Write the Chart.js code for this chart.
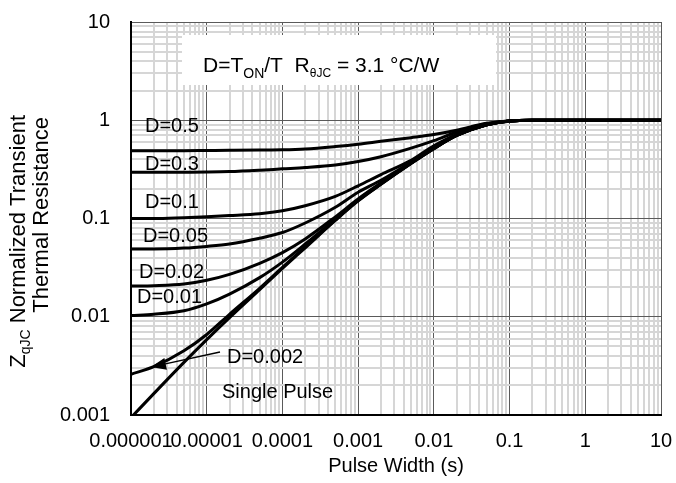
<!DOCTYPE html>
<html>
<head>
<meta charset="utf-8">
<script src="https://cdn.jsdelivr.net/npm/chart.js@4.4.1/dist/chart.umd.min.js"></script>
<style>
  html, body { margin: 0; padding: 0; background: #fff; }
</style>
</head>
<body>
<canvas id="myChart" width="676" height="483"></canvas>
<script>
const ctx = document.getElementById('myChart').getContext('2d');

// pulse width (s) and normalized Zthjc per duty cycle
const pulseWidth = [1e-6, 2e-6, 5e-6, 1e-5, 2e-5, 5e-5, 1e-4, 2e-4, 5e-4, 1e-3, 2e-3, 5e-3, 1e-2, 2e-2, 5e-2, 0.1, 0.2, 1, 10];
const d05    = [0.49, 0.49, 0.49, 0.492, 0.494, 0.497, 0.50, 0.51, 0.54, 0.57, 0.61, 0.665, 0.715, 0.79, 0.93, 0.985, 1.0, 1.0, 1.0];
const d03    = [0.295, 0.295, 0.296, 0.297, 0.30, 0.31, 0.32, 0.33, 0.35, 0.38, 0.425, 0.52, 0.62, 0.76, 0.92, 0.985, 1.0, 1.0, 1.0];
const d01    = [0.100, 0.100, 0.102, 0.104, 0.107, 0.112, 0.12, 0.135, 0.168, 0.215, 0.28, 0.39, 0.55, 0.72, 0.91, 0.985, 1.0, 1.0, 1.0];
const d005   = [0.049, 0.049, 0.050, 0.052, 0.055, 0.063, 0.072, 0.09, 0.13, 0.185, 0.245, 0.375, 0.525, 0.705, 0.90, 0.985, 1.0, 1.0, 1.0];
const d002   = [0.0205, 0.0207, 0.0215, 0.0235, 0.027, 0.035, 0.045, 0.062, 0.104, 0.158, 0.23, 0.368, 0.518, 0.70, 0.90, 0.985, 1.0, 1.0, 1.0];
const d001   = [0.0103, 0.0106, 0.0115, 0.0135, 0.017, 0.025, 0.036, 0.055, 0.099, 0.155, 0.226, 0.365, 0.515, 0.70, 0.90, 0.985, 1.0, 1.0, 1.0];
const d0002  = [0.0026, 0.0031, 0.0045, 0.0066, 0.0106, 0.0195, 0.0318, 0.0513, 0.097, 0.152, 0.224, 0.364, 0.514, 0.70, 0.90, 0.985, 1.0, 1.0, 1.0];
const single = [0.00094, 0.00165, 0.00343, 0.00585, 0.0098, 0.0189, 0.031, 0.0503, 0.0955, 0.151, 0.223, 0.363, 0.513, 0.70, 0.90, 0.985, 1.0, 1.0, 1.0];

const xTickLabels = ['0.000001', '0.00001', '0.0001', '0.001', '0.01', '0.1', '1', '10'];
const yTickLabels = ['0.001', '0.01', '0.1', '1', '10'];

const FONT = '"Liberation Sans", Arial, sans-serif';

// 1..9 per decade, labels only on the decades
function logGrid(labels) {
  const ticks = [];
  labels.forEach((lbl, i) => {
    const d = Number(lbl);
    if (i === labels.length - 1) { ticks.push({ value: d, major: true, lbl }); return; }
    for (let k = 1; k <= 9; k++) ticks.push({ value: d * k, major: k === 1, lbl: k === 1 ? lbl : '' });
  });
  return ticks;
}

const gridStyle = {
  color: c => (c.tick && c.tick.major) ? '#5a5a5a' : '#d6d6d6',
  lineWidth: c => (c.tick && c.tick.major) ? 1 : 2,
  drawTicks: false
};

// fixed box sizes, no extra label overhang padding
function fixBox(s, w, h) {
  if (w) s.width = w;
  if (h) s.height = h;
  s.paddingTop = s.paddingBottom = s.paddingLeft = s.paddingRight = 0;
}

function rich(ctx, parts, x, y, align) {
  let w = 0;
  parts.forEach(p => { ctx.font = p[1] + 'px ' + FONT; w += ctx.measureText(p[0]).width; });
  let cx = align === 'right' ? x - w : x;
  parts.forEach(p => {
    ctx.font = p[1] + 'px ' + FONT;
    ctx.fillText(p[0], cx, y + p[2]);
    cx += ctx.measureText(p[0]).width;
  });
}

const overlay = {
  id: 'overlay',
  beforeDatasetsDraw(chart) {
    const { ctx, chartArea: a } = chart;
    ctx.save();
    ctx.fillStyle = '#fff';
    ctx.fillRect(a.left + 51, a.top + 13, 314, 50);
    ctx.restore();
  },
  afterDatasetsDraw(chart) {
    const { ctx, chartArea: a } = chart;
    ctx.save();
    ctx.fillStyle = '#000';
    ctx.textBaseline = 'alphabetic';

    rich(ctx, [['D=T', 21, 0], ['ON', 14, 6], ['/T  R', 21, 0], ['\u03B8JC', 12, 5], [' = 3.1 \u00B0C/W', 21, 0]],
      a.left + 72, a.top + 50);

    ctx.font = '20px ' + FONT;
    const labels = [
      ['D=0.5', 14, 110], ['D=0.3', 14, 148], ['D=0.1', 14, 186], ['D=0.05', 12, 220],
      ['D=0.02', 8, 256], ['D=0.01', 6, 281], ['D=0.002', 96, 341], ['Single Pulse', 91, 376]
    ];
    labels.forEach(l => ctx.fillText(l[0], a.left + l[1], a.top + l[2]));

    // arrow to the D=0.002 curve
    const x0 = a.left + 89, y0 = a.top + 330, tx = a.left + 20, ty = a.top + 345;
    const len = Math.hypot(x0 - tx, y0 - ty), ux = (x0 - tx) / len, uy = (y0 - ty) / len;
    ctx.strokeStyle = '#000';
    ctx.lineWidth = 1.5;
    ctx.beginPath();
    ctx.moveTo(x0, y0);
    ctx.lineTo(tx + ux * 10, ty + uy * 10);
    ctx.stroke();
    ctx.beginPath();
    ctx.moveTo(tx, ty);
    ctx.lineTo(tx + ux * 15 - uy * 6, ty + uy * 15 + ux * 6);
    ctx.lineTo(tx + ux * 15 + uy * 6, ty + uy * 15 - ux * 6);
    ctx.closePath();
    ctx.fill();

    // y axis title, two rotated lines
    ctx.save();
    ctx.translate(25, a.top + 93);
    ctx.rotate(-Math.PI / 2);
    rich(ctx, [['Z', 22, 0], ['qJC', 14, 5], [' Normalized Transient', 22, 0]], 0, 0, 'right');
    ctx.restore();
    ctx.save();
    ctx.translate(48, a.top + 95);
    ctx.rotate(-Math.PI / 2);
    rich(ctx, [['Thermal Resistance', 22, 0]], 0, 0, 'right');
    ctx.restore();

    ctx.restore();
  }
};

const series = [d05, d03, d01, d005, d002, d001, d0002, single];

new Chart(ctx, {
  type: 'line',
  data: {
    datasets: series.map(vals => ({
      data: pulseWidth.map((x, i) => ({ x, y: vals[i] })),
      borderColor: '#000',
      borderWidth: 3,
      pointRadius: 0,
      fill: false,
      cubicInterpolationMode: 'monotone'
    }))
  },
  options: {
    responsive: false,
    animation: false,
    layout: { padding: { top: 22, right: 15, left: 0, bottom: 0 } },
    plugins: { legend: { display: false }, tooltip: { enabled: false } },
    scales: {
      x: {
        type: 'logarithmic', min: 1e-6, max: 10,
        afterBuildTicks: s => { s.ticks = logGrid(xTickLabels); },
        afterFit: s => fixBox(s, 0, 68),
        grid: gridStyle,
        border: { color: '#000', width: 2 },
        ticks: {
          autoSkip: false, maxRotation: 0, padding: 14, color: '#000',
          font: { family: FONT, size: 20 },
          callback: (v, i, t) => t[i].lbl
        },
        title: { display: true, text: 'Pulse Width (s)', color: '#000', font: { family: FONT, size: 20 }, padding: { top: 0, bottom: 5 } }
      },
      y: {
        type: 'logarithmic', min: 0.001, max: 10,
        afterBuildTicks: s => { s.ticks = logGrid(yTickLabels); },
        afterFit: s => fixBox(s, 131, 0),
        grid: gridStyle,
        border: { color: '#000', width: 2 },
        ticks: {
          autoSkip: false, padding: 21, color: '#000',
          font: { family: FONT, size: 20 },
          callback: (v, i, t) => t[i].lbl
        }
      }
    }
  },
  plugins: [overlay]
});
</script>
</body>
</html>
